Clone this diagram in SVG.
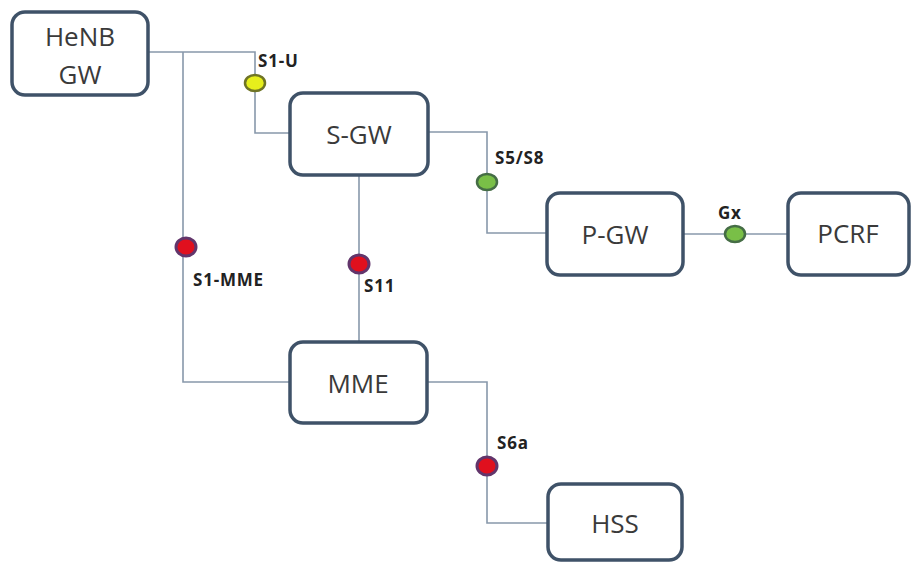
<svg xmlns="http://www.w3.org/2000/svg" width="912" height="562" viewBox="0 0 912 562">
<style>
.box{fill:#fff;stroke:#3f5268;stroke-width:3.5}
.nt{font-family:"Open Sans","Liberation Sans",sans-serif;font-size:26px;fill:#3a3a3a;text-anchor:middle;dominant-baseline:central}
.ln{fill:none;stroke:#8898ab;stroke-width:1.6}
.lb{font-family:"Open Sans","Liberation Sans",sans-serif;font-size:17px;font-weight:bold;fill:#222;dominant-baseline:central;letter-spacing:0.8px}
.y{fill:#e6ef1c;stroke:#6f7425;stroke-width:2.5}
.g{fill:#79bf47;stroke:#456d45;stroke-width:2.5}
.r{fill:#e0101e;stroke:#62356b;stroke-width:3}
</style>
<rect width="912" height="562" fill="#fff"/>
<g id="connectors">
<polyline class="ln" points="148,52 255,52 255,133 290,133"/>
<polyline class="ln" points="183,52 183,382 290,382"/>
<line class="ln" x1="359" y1="175" x2="359" y2="342"/>
<polyline class="ln" points="428,132 487,132 487,233 547,233"/>
<line class="ln" x1="683" y1="234" x2="788" y2="234"/>
<polyline class="ln" points="427,382 487,382 487,523 548,523"/>
<ellipse class="y" cx="255" cy="83" rx="10" ry="8"/>
<text class="lb" x="258" y="60">S1-U</text>
<ellipse class="r" cx="186" cy="247" rx="10" ry="9"/>
<text class="lb" x="193" y="279">S1-MME</text>
<ellipse class="r" cx="359" cy="264" rx="10" ry="9"/>
<text class="lb" x="364" y="285">S11</text>
<ellipse class="g" cx="487" cy="182" rx="10" ry="8"/>
<text class="lb" x="495" y="157">S5/S8</text>
<ellipse class="g" cx="735" cy="234" rx="10" ry="8"/>
<text class="lb" x="718" y="212">Gx</text>
<ellipse class="r" cx="487" cy="466" rx="10" ry="9"/>
<text class="lb" x="497" y="442">S6a</text>
</g>
<g id="henb"><rect class="box" x="12" y="12" width="136" height="83" rx="13"/><text class="nt" x="80" y="36">HeNB</text><text class="nt" x="80" y="74">GW</text></g>
<g id="sgw"><rect class="box" x="290" y="93" width="138" height="82" rx="13"/><text class="nt" x="359" y="134">S-GW</text></g>
<g id="pgw"><rect class="box" x="547" y="193" width="136" height="82" rx="13"/><text class="nt" x="615" y="234">P-GW</text></g>
<g id="pcrf"><rect class="box" x="788" y="193" width="121" height="82" rx="13"/><text class="nt" x="848" y="233">PCRF</text></g>
<g id="mme"><rect class="box" x="290" y="342" width="137" height="81" rx="13"/><text class="nt" x="358" y="383">MME</text></g>
<g id="hss"><rect class="box" x="548" y="484" width="134" height="76" rx="13"/><text class="nt" x="615" y="523">HSS</text></g>
</svg>
